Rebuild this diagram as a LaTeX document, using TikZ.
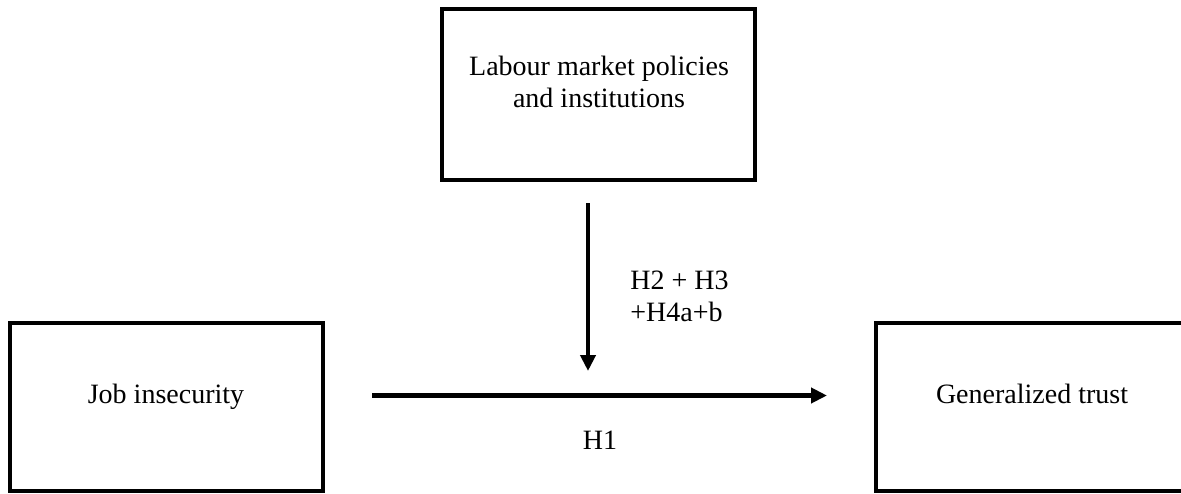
\documentclass[tikz,border=0pt]{standalone}
\usepackage{fontspec}
\setmainfont{Liberation Serif}
\usetikzlibrary{arrows.meta}
\tikzset{
    varbox/.style={draw=black, line width=2.3pt, minimum width=156.5pt, inner sep=0pt},
    vartext/.style={font=\fontsize{14}{16}\selectfont, align=center, inner sep=0pt},
    hyptext/.style={font=\fontsize{14}{16}\selectfont, align=left, inner sep=0pt},
    effect/.style={line width=2.25pt, -{Triangle[length=8pt,width=7.5pt]}}
}
\begin{document}
\begin{tikzpicture}[x=0.5pt, y=-0.5pt]
    % the page, the right box runs over its edge
    \useasboundingbox (0,0) rectangle (1181,493);
    \clip (0,0) rectangle (1181,493);
    % draw the boxes
    \node[varbox, minimum height=85.5pt] (policies) at (598.5,94.5) {};
    \node[varbox, minimum height=84pt] (job) at (166.5,407) {};
    \node[varbox, minimum height=84pt] (trust) at (1032.5,407) {};
    % the texts in the boxes
    \node[vartext] (policiesText) at (599,82) {Labour market policies\\and institutions};
    \node[vartext, anchor=base] (jobText) at (166,403) {Job insecurity};
    \node[vartext, anchor=base] (trustText) at (1032,403) {Generalized trust};
    % the ends of the arrows
    \coordinate (modTop) at (588,203);
    \coordinate (modTip) at (588,371);
    \coordinate (mainStart) at (372,395.5);
    \coordinate (mainTip) at (827,395.5);
    % draw the arrows
    \draw[effect] (modTop) -- (modTip);
    \draw[effect] (mainStart) -- (mainTip);
    % the hypotheses
    \node[hyptext, anchor=west] (hypMod) at (630,296) {H2 + H3\\+H4a+b};
    \node[vartext] (hypMain) at (600,440) {H1};
\end{tikzpicture}
\end{document}
